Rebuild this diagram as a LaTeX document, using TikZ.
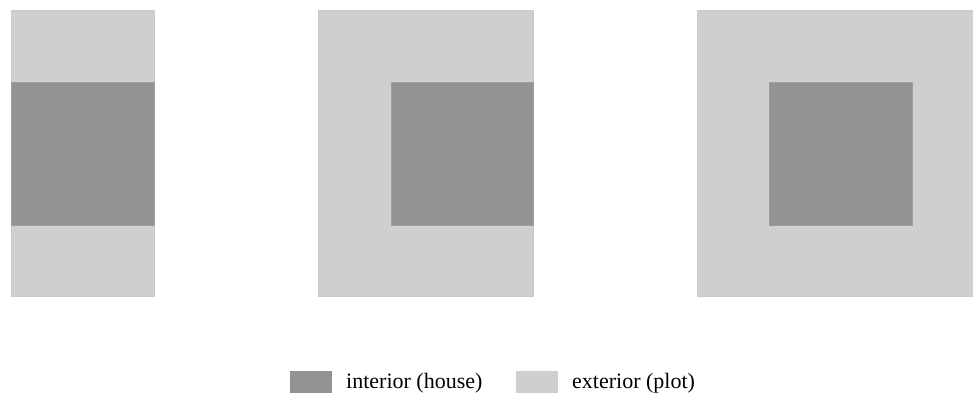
\documentclass[tikz,border=0pt]{standalone}
\usepackage{fontspec}
\setmainfont{Liberation Serif}
\definecolor{plot}{HTML}{CFCFCF}
\definecolor{house}{HTML}{939393}
\tikzset{
  plotfill/.style={fill=plot, draw=plot!97!black, line width=0.4pt},
  housefill/.style={fill=house, draw=house!90!white, line width=0.4pt},
  legtext/.style={anchor=base west, inner sep=0pt, font=\fontsize{22}{26}\selectfont}
}
\begin{document}
\begin{tikzpicture}[x=1pt,y=-1pt]
\useasboundingbox (0,0) rectangle (973,392);
\clip (0,0) rectangle (973,392);
% left
\path[plotfill] (11,10) rectangle (154,296);
\path[housefill] (11,82) rectangle (154,225);
% middle
\path[plotfill] (318,10) rectangle (533,296);
\path[housefill] (391,82) rectangle (533,225);
% right
\path[plotfill] (697,10) rectangle (984,296);
\path[housefill] (769,82) rectangle (912,225);
% legend
\path[fill=house] (290,371) rectangle (332,395);
\node[legtext] (lint) at (346,388) {interior (house)};
\path[fill=plot] (516,371) rectangle (558,395);
\node[legtext] (lext) at (572,388) {exterior (plot)};
\end{tikzpicture}
\end{document}
